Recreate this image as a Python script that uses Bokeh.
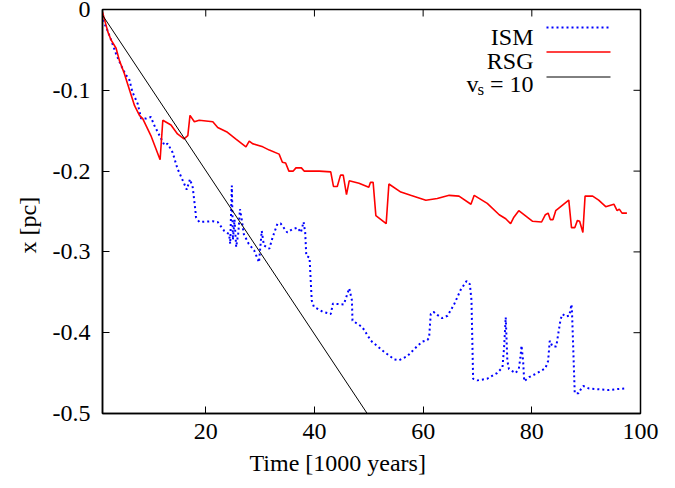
from bokeh.plotting import figure
from bokeh.models import Range1d, FixedTicker, CustomJSTickFormatter, Label, Title
from bokeh.embed import file_html
from bokeh.resources import INLINE

# ---------------- data ----------------
RSG_T = [1.0, 2.0, 2.6, 3.5, 4.1, 5.0, 5.9, 6.9, 7.8, 8.4, 9.9, 11.6, 12.1, 13.6, 14.8,
         16.0, 16.7, 17.1, 17.9, 18.8, 21.3, 22.2, 24.0, 25.5, 27.4, 28.0, 28.6, 30.5,
         31.7, 33.5, 34.1, 34.7, 35.3, 36.1, 36.6, 37.6, 38.1, 40.9, 43.0, 43.5, 44.2,
         44.8, 45.3, 45.9, 46.4, 48.2, 50.0, 50.3, 50.8, 51.3, 53.2, 53.7, 55.9, 57.7,
         60.5, 62.6, 64.8, 66.6, 68.8, 69.4, 71.8, 74.0, 75.2, 76.1, 76.7, 77.6, 80.1,
         81.8, 82.5, 83.0, 83.4, 83.9, 84.4, 86.8, 87.3, 87.9, 88.4, 88.8, 89.4, 89.8,
         91.2, 92.3, 93.6, 95.1, 95.7, 96.1, 96.6, 97.5]
RSG_X = [-0.003, -0.028, -0.038, -0.048, -0.063, -0.079, -0.098, -0.119, -0.131, -0.135,
         -0.156, -0.186, -0.137, -0.143, -0.154, -0.160, -0.156, -0.131, -0.139, -0.137,
         -0.139, -0.146, -0.152, -0.160, -0.170, -0.163, -0.166, -0.170, -0.174, -0.179,
         -0.189, -0.190, -0.200, -0.200, -0.196, -0.196, -0.200, -0.200, -0.201, -0.219,
         -0.219, -0.205, -0.205, -0.229, -0.212, -0.215, -0.220, -0.214, -0.214, -0.255,
         -0.265, -0.216, -0.226, -0.230, -0.236, -0.234, -0.230, -0.231, -0.241, -0.230,
         -0.240, -0.254, -0.259, -0.265, -0.257, -0.249, -0.262, -0.263, -0.254, -0.252,
         -0.260, -0.260, -0.249, -0.236, -0.270, -0.270, -0.261, -0.262, -0.276, -0.231,
         -0.231, -0.236, -0.244, -0.241, -0.249, -0.247, -0.252, -0.252]

ISM_T = [1.0, 1.7, 2.6, 3.5, 4.4, 5.3, 5.9, 6.5, 7.5, 8.1, 9.0, 9.9, 10.5, 11.8, 12.4,
         13.0, 13.9, 14.8, 15.8, 16.5, 17.1, 17.6, 18.1, 18.2, 18.8, 21.3, 22.2, 23.4,
         24.3, 24.5, 24.8, 25.0, 25.3, 25.6, 26.0, 26.3, 26.6, 27.0, 27.9, 28.9, 29.8,
         30.3, 30.7, 31.7, 32.3, 33.2, 33.8, 35.0, 35.9, 36.9, 37.5, 38.0, 38.3, 38.5,
         39.1, 39.5, 39.9, 41.5, 43.0, 43.4, 45.4, 46.4, 46.9, 47.0, 48.8, 50.4, 52.5,
         54.7, 55.6, 57.1, 59.0, 59.9, 60.8, 61.1, 61.4, 61.9, 62.6, 63.5, 64.5, 65.7,
         66.9, 68.0, 68.6, 68.9, 69.2, 70.0, 71.8, 73.6, 74.6, 74.9, 75.2, 75.5, 75.8,
         77.0, 77.6, 77.9, 78.1, 78.4, 78.6, 79.5, 81.0, 82.5, 83.0, 83.3, 83.8, 84.5,
         85.3, 85.7, 86.2, 86.9, 87.3, 87.4, 87.7, 87.9, 88.6, 89.1, 89.5, 90.5, 92.3,
         94.2, 95.4, 97.1]
ISM_X = [-0.013, -0.022, -0.038, -0.055, -0.069, -0.081, -0.086, -0.102, -0.117, -0.135,
         -0.135, -0.133, -0.143, -0.160, -0.168, -0.166, -0.177, -0.197, -0.212, -0.223,
         -0.210, -0.220, -0.249, -0.257, -0.263, -0.262, -0.263, -0.274, -0.278, -0.290,
         -0.218, -0.285, -0.260, -0.294, -0.276, -0.247, -0.259, -0.278, -0.290, -0.298,
         -0.313, -0.274, -0.292, -0.296, -0.282, -0.265, -0.265, -0.276, -0.272, -0.270,
         -0.276, -0.263, -0.276, -0.305, -0.307, -0.360, -0.368, -0.374, -0.377, -0.364,
         -0.365, -0.345, -0.360, -0.385, -0.393, -0.410, -0.422, -0.433, -0.434, -0.429,
         -0.416, -0.411, -0.409, -0.406, -0.377, -0.374, -0.378, -0.382, -0.379, -0.365,
         -0.347, -0.336, -0.340, -0.360, -0.457, -0.459, -0.457, -0.450, -0.443, -0.418,
         -0.381, -0.435, -0.445, -0.450, -0.445, -0.431, -0.416, -0.435, -0.460, -0.455,
         -0.450, -0.444, -0.435, -0.410, -0.417, -0.417, -0.383, -0.377, -0.380, -0.379,
         -0.365, -0.375, -0.435, -0.475, -0.475, -0.469, -0.466, -0.469, -0.470, -0.471,
         -0.470, -0.469]

VS_T = [1.0, 50.5]
VS_X = [-0.007, -0.508]

X_TICKS = [20, 40, 60, 80, 100]
Y_TICKS = [0, -0.1, -0.2, -0.3, -0.4, -0.5]
SERIES_LABELS = ["ISM", "RSG"]
X_LABEL = "Time [1000 years]"
Y_LABEL = "x [pc]"

# ---------------- layout ----------------
W, H = 675, 488
ML, MR, MT, MB = 102, 35, 9, 75
X0, X1 = 1.0, 100.0
Y0, Y1 = -0.5, 0.0
FW, FH = W - ML - MR, H - MT - MB
FONT = "Liberation Serif"
FS = "24px"
TICK_LEN = 7


def dx(px):
    return X0 + (px - ML) * (X1 - X0) / FW


def dy(py):
    return Y1 - (py - MT) * (Y1 - Y0) / FH


def txt(x, y, text, align="left", baseline="alphabetic", size=FS):
    return Label(x=x, y=y, text=text, text_align=align, text_baseline=baseline,
                 text_font=FONT, text_font_size=size, text_color="black")


p = figure(width=W, height=H, output_backend="svg", toolbar_location=None,
           x_range=Range1d(X0, X1), y_range=Range1d(Y0, Y1),
           min_border_left=ML, min_border_right=MR, min_border_top=MT, min_border_bottom=MB)
p.background_fill_color = "white"
p.border_fill_color = "white"
p.outline_line_color = "black"
p.outline_line_width = 1.5
p.grid.visible = False

fmt = CustomJSTickFormatter(code="return Math.abs(tick) < 1e-9 ? '0' : tick.toFixed(1);")

for ax in p.xaxis:
    ax.ticker = FixedTicker(ticks=X_TICKS)
for ax in p.yaxis:
    ax.ticker = FixedTicker(ticks=Y_TICKS)
    ax.formatter = fmt

for ax in list(p.xaxis) + list(p.yaxis):
    ax.major_tick_in = TICK_LEN
    ax.major_tick_out = 0
    ax.minor_tick_line_color = None
    ax.axis_line_color = "black"
    ax.axis_line_width = 1.5
    ax.major_tick_line_color = "black"
    ax.major_tick_line_width = 1
    ax.major_label_text_font = FONT
    ax.major_label_text_font_size = FS
    ax.major_label_text_color = "black"
p.xaxis.major_label_standoff = 10
p.yaxis.major_label_standoff = 12

# axis titles as side titles (lets them be shifted like gnuplot places them)
xt = Title(text=X_LABEL, align="left", offset=147, standoff=13,
           text_font=FONT, text_font_size=FS, text_font_style="normal", text_color="black")
yt = Title(text=Y_LABEL, align="left", offset=160, standoff=18,
           text_font=FONT, text_font_size=FS, text_font_style="normal", text_color="black")
p.add_layout(xt, "below")
p.add_layout(yt, "left")

# mirrored tick marks on the top and right borders
p.segment(x0=X_TICKS, y0=[Y1] * len(X_TICKS), x1=X_TICKS,
          y1=[dy(MT + TICK_LEN)] * len(X_TICKS), line_color="black", line_width=1)
p.segment(x0=[X1] * len(Y_TICKS), y0=Y_TICKS, x1=[dx(ML + FW - TICK_LEN)] * len(Y_TICKS),
          y1=Y_TICKS, line_color="black", line_width=1)

# data lines
p.line(ISM_T, ISM_X, line_color="#0000ff", line_width=2, line_dash="2 3")
p.line(RSG_T, RSG_X, line_color="#ff0000", line_width=1.6)
p.line(VS_T, VS_X, line_color="black", line_width=1)

# legend (gnuplot style: text right-aligned, sample to its right)
TEXT_R = 533
S_L, S_R = 546, 610
entries = [
    (SERIES_LABELS[0], 36, 27, dict(line_color="#0000ff", line_width=2, line_dash="2 3")),
    (SERIES_LABELS[1], 60, 51.5, dict(line_color="#ff0000", line_width=1.6)),
]
for label, base, ly, style in entries:
    p.add_layout(txt(dx(TEXT_R), dy(base), label, align="right"))
    p.line([dx(S_L), dx(S_R)], [dy(ly), dy(ly)], **style)

# v_s = 10
p.add_layout(txt(dx(TEXT_R), dy(83), "= 10", align="right"))
p.add_layout(txt(dx(466), dy(83), "v"))
p.add_layout(txt(dx(477), dy(89), "s", size="17px"))
p.line([dx(S_L), dx(S_R)], [dy(76.5), dy(76.5)], line_color="black", line_width=1)

open("out.html", "w").write(file_html(p, INLINE))
